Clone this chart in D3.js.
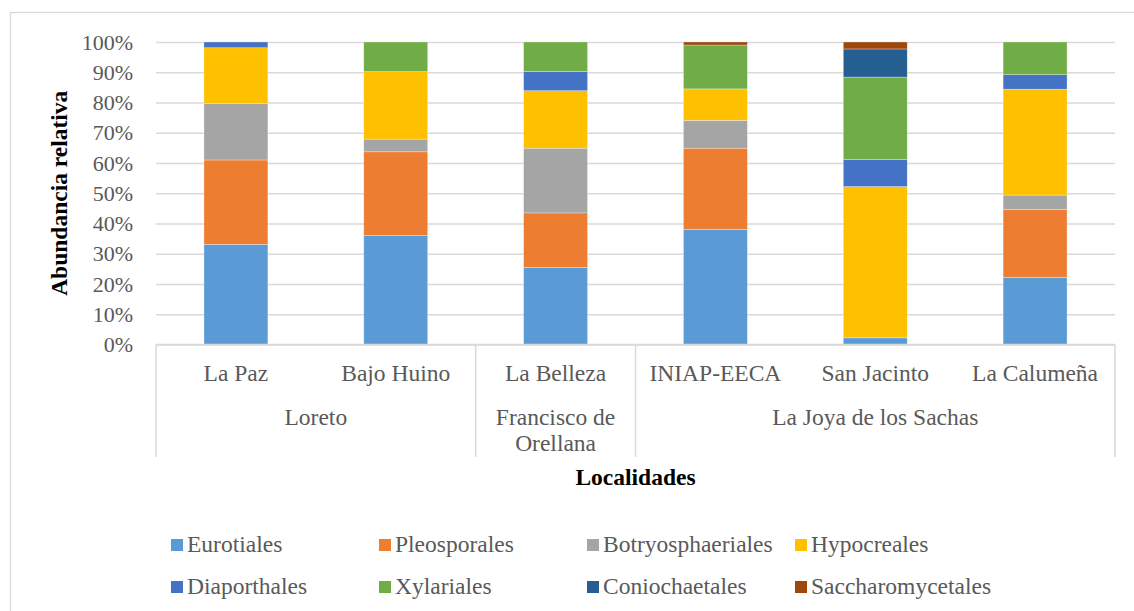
<!DOCTYPE html>
<html>
<head>
<meta charset="utf-8">
<script src="https://cdn.jsdelivr.net/npm/d3@7"></script>
<style>
  html, body { margin: 0; padding: 0; background: #fff; }
  svg { display: block; }
  text { font-family: "Liberation Serif", "Times New Roman", serif; }
</style>
</head>
<body>
<svg id="chart" width="1134" height="611"></svg>
<script>
// Localities (x categories) and the canton each belongs to
const localities = ["La Paz", "Bajo Huino", "La Belleza", "INIAP-EECA", "San Jacinto", "La Calumeña"];
const cantons = [
  { name: ["Loreto"], members: ["La Paz", "Bajo Huino"] },
  { name: ["Francisco de", "Orellana"], members: ["La Belleza"] },
  { name: ["La Joya de los Sachas"], members: ["INIAP-EECA", "San Jacinto", "La Calumeña"] }
];

// Orders (stack series), bottom to top
const orders = ["Eurotiales", "Pleosporales", "Botryosphaeriales", "Hypocreales",
                "Diaporthales", "Xylariales", "Coniochaetales", "Saccharomycetales"];
const orderColors = ["#5B9BD5", "#ED7D31", "#A5A5A5", "#FFC000",
                     "#4472C4", "#70AD47", "#255E91", "#9E480E"];

// Relative abundance (%) per order, one value per locality
const eurotiales        = [33.1, 36.0, 25.5, 38.1,  2.2, 22.2];
const pleosporales      = [27.9, 27.7, 18.0, 26.8,  0.0, 22.5];
const botryosphaeriales = [18.6,  4.2, 21.4,  9.2,  0.0,  4.7];
const hypocreales       = [18.5, 22.3, 19.0, 10.4, 50.0, 35.0];
const diaporthales      = [ 1.9,  0.0,  6.4,  0.0,  9.0,  4.8];
const xylariales        = [ 0.0,  9.8,  9.7, 14.5, 27.2, 10.8];
const coniochaetales    = [ 0.0,  0.0,  0.0,  0.0,  9.3,  0.0];
const saccharomycetales = [ 0.0,  0.0,  0.0,  1.0,  2.3,  0.0];

const yTicks = [0, 0.1, 0.2, 0.3, 0.4, 0.5, 0.6, 0.7, 0.8, 0.9, 1.0];

const seriesValues = [eurotiales, pleosporales, botryosphaeriales, hypocreales,
                      diaporthales, xylariales, coniochaetales, saccharomycetales];

const rows = localities.map((loc, i) => {
  const r = { locality: loc };
  orders.forEach((o, k) => { r[o] = seriesValues[k][i] / 100; });
  return r;
});

const svg = d3.select("#chart");
const gridColor = "#d9d9d9";
const textGray = "#595959";

// outer chart frame
svg.append("rect")
  .attr("x", 10.5).attr("y", 12.5)
  .attr("width", 1140).attr("height", 620)
  .attr("fill", "none").attr("stroke", gridColor).attr("stroke-width", 1.3);

const plot = { left: 156, right: 1115, top: 42, bottom: 344.5 };

const x = d3.scaleBand()
  .domain(localities)
  .range([plot.left, plot.right])
  .paddingInner(0.6)
  .paddingOuter(0.3);

const y = d3.scaleLinear().domain([0, 1]).range([plot.bottom, plot.top]);

// gridlines + tick labels
const yAxis = d3.axisLeft(y)
  .tickValues(yTicks)
  .tickFormat(d3.format(".0%"))
  .tickSize(-(plot.right - plot.left))
  .tickPadding(23);

const gy = svg.append("g")
  .attr("transform", `translate(${plot.left},0)`)
  .call(yAxis);
gy.select(".domain").remove();
gy.selectAll(".tick line").attr("stroke", gridColor).attr("stroke-width", 1.3);
gy.selectAll(".tick text")
  .attr("fill", textGray)
  .style("font-size", "22px")
  .style("font-family", "'Liberation Serif', 'Times New Roman', serif");

// stacked bars
const stack = d3.stack().keys(orders);
const stacked = stack(rows);

svg.append("g")
  .selectAll("g")
  .data(stacked)
  .join("g")
  .attr("fill", (d, i) => orderColors[i])
  .selectAll("rect")
  .data(d => d.filter(s => s[1] - s[0] > 0))
  .join("rect")
  .attr("x", d => x(d.data.locality))
  .attr("width", x.bandwidth())
  .attr("y", d => y(d[1]))
  .attr("height", d => y(d[0]) - y(d[1]))
  .attr("stroke", "#ffffff")
  .attr("stroke-opacity", 0.5)
  .attr("stroke-width", 0.6);

// multi-level category axis
const axisG = svg.append("g");
const boxBottom = 457;
axisG.append("line")
  .attr("x1", plot.left).attr("x2", plot.right)
  .attr("y1", plot.bottom).attr("y2", plot.bottom)
  .attr("stroke", gridColor).attr("stroke-width", 1.5);

const half = x.step() * x.paddingOuter();
const groupSpans = cantons.map(c => {
  const x0 = x(c.members[0]) - half;
  const x1 = x(c.members[c.members.length - 1]) + x.bandwidth() + half;
  return { name: c.name, x0, x1 };
});
const dividers = [plot.left].concat(groupSpans.map(g => g.x1));
axisG.selectAll("line.div")
  .data(dividers)
  .join("line")
  .attr("class", "div")
  .attr("x1", d => d).attr("x2", d => d)
  .attr("y1", plot.bottom).attr("y2", boxBottom)
  .attr("stroke", gridColor).attr("stroke-width", 1.5);

axisG.selectAll("text.loc")
  .data(localities)
  .join("text")
  .attr("class", "loc")
  .attr("x", d => x(d) + x.bandwidth() / 2)
  .attr("y", 381)
  .attr("text-anchor", "middle")
  .attr("fill", textGray)
  .style("font-size", "23.5px")
  .text(d => d);

const gl = axisG.selectAll("text.grp")
  .data(groupSpans)
  .join("text")
  .attr("class", "grp")
  .attr("x", d => (d.x0 + d.x1) / 2)
  .attr("y", 425)
  .attr("text-anchor", "middle")
  .attr("fill", textGray)
  .style("font-size", "23.5px");
gl.selectAll("tspan")
  .data(d => d.name.map(t => ({ t, cx: (d.x0 + d.x1) / 2 })))
  .join("tspan")
  .attr("x", d => d.cx)
  .attr("dy", (d, i) => i === 0 ? 0 : 26)
  .text(d => d.t);

// axis titles
svg.append("text")
  .attr("x", (plot.left + plot.right) / 2)
  .attr("y", 485)
  .attr("text-anchor", "middle")
  .attr("fill", "#000")
  .style("font-size", "23.5px")
  .style("font-weight", "bold")
  .text("Localidades");

svg.append("text")
  .attr("transform", `translate(67,${(plot.top + plot.bottom) / 2}) rotate(-90)`)
  .attr("text-anchor", "middle")
  .attr("fill", "#000")
  .style("font-size", "23.5px")
  .style("font-weight", "bold")
  .text("Abundancia relativa");

// legend: 4 columns x 2 rows
const legend = svg.append("g");
const colX = [171, 379, 587, 795];
const rowY = [545, 587];
const items = legend.selectAll("g")
  .data(orders)
  .join("g")
  .attr("transform", (d, i) => `translate(${colX[i % 4]},${rowY[Math.floor(i / 4)]})`);
items.append("rect")
  .attr("x", 0).attr("y", -6)
  .attr("width", 12).attr("height", 12)
  .attr("fill", (d, i) => orderColors[i]);
items.append("text")
  .attr("x", 16)
  .attr("y", 7)
  .attr("fill", textGray)
  .style("font-size", "23.5px")
  .text(d => d);
</script>
</body>
</html>
